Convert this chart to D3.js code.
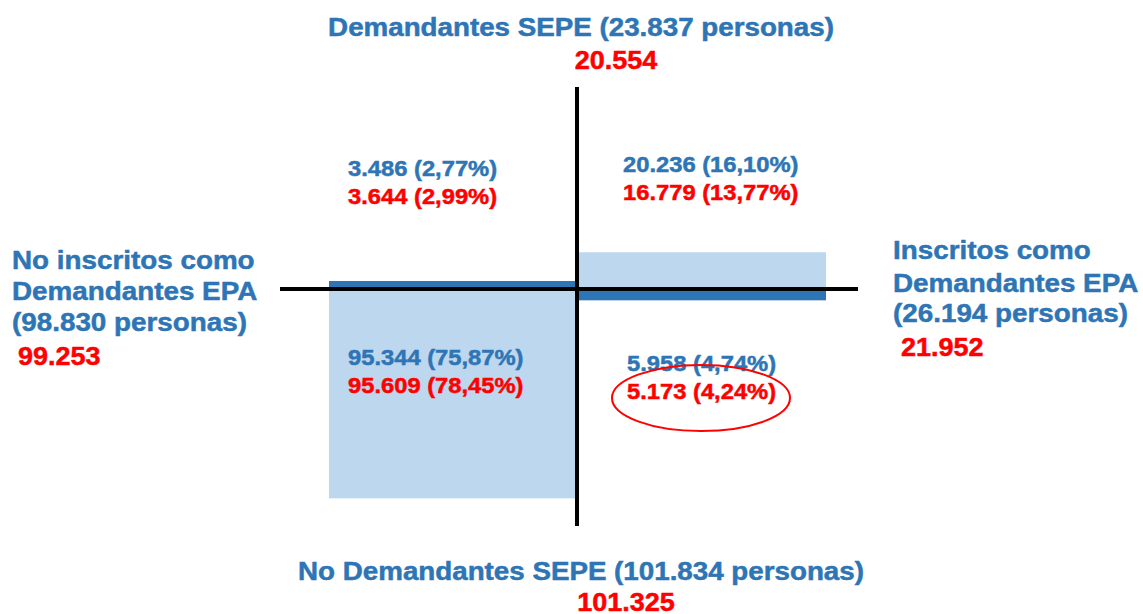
<!DOCTYPE html>
<head>
<meta charset="utf-8">
<script src="https://d3js.org/d3.v7.min.js"></script>
<style>
body { margin: 0; background: #fff; }
svg { display: block; }
text { font-family: "Liberation Sans", Arial, sans-serif; font-weight: bold; paint-order: stroke; stroke-width: 0.5px; }
</style>
</head>
<body>
<svg width="1143" height="614"></svg>
<script>
// quadrants: top-left, top-right, bottom-left, bottom-right
var quadrants = ["sepe_noEpa", "sepe_epa", "noSepe_noEpa", "noSepe_epa"];
var sepeRow = ["sepe", "sepe", "noSepe", "noSepe"];
var epaCol = ["noEpa", "epa", "noEpa", "epa"];
var blueCounts = [3486, 20236, 95344, 5958];
var bluePct = [2.77, 16.10, 75.87, 4.74];
var redCounts = [3644, 16779, 95609, 5173];
var redPct = [2.99, 13.77, 78.45, 4.24];

// row / column totals
var sepeLabels = ["Demandantes SEPE", "No Demandantes SEPE"];
var sepeBlue = [23837, 101834];
var sepeRed = [20554, 101325];
var epaLabels = [["No inscritos como", "Demandantes EPA"], ["Inscritos como", "Demandantes EPA"]];
var epaBlue = [98830, 26194];
var epaRed = [99253, 21952];

var blue = "#2e75b6", lightBlue = "#bdd7ee", red = "#ff0000";

var es = d3.formatLocale({decimal: ",", thousands: ".", grouping: [3], currency: ["", "€"]});
var fmtN = es.format(",d"), fmtP = es.format(".2f");

var svg = d3.select("svg");
var cx = 577, cy = 289;

var x = d3.scaleBand()
  .domain(["noEpa", "epa"])
  .range([329, 826]);

// thousands of persons, up = demandantes SEPE
var y = d3.scaleLinear()
  .domain([-100, 100])
  .range([cy + 219, cy - 219]);

var bars = quadrants.map(function(q, i) {
  return {q: q, row: sepeRow[i], col: epaCol[i], v: redCounts[i] / 1000, dark: (i == 0 || i == 3)};
});

svg.selectAll(".bar").data(bars).enter().append("rect")
  .attr("class", "bar")
  .attr("x", d => x(d.col))
  .attr("width", x.bandwidth())
  .attr("y", d => d.row == "sepe" ? y(d.v) : y(0))
  .attr("height", d => Math.abs(y(d.v) - y(0)))
  .style("fill", d => d.dark ? blue : lightBlue);

// axes cross
svg.append("line")
  .attr("x1", 280).attr("x2", 858)
  .attr("y1", y(0)).attr("y2", y(0))
  .style("stroke", "#000").style("stroke-width", 4);
svg.append("line")
  .attr("x1", cx).attr("x2", cx)
  .attr("y1", 87).attr("y2", 526)
  .style("stroke", "#000").style("stroke-width", 4);

function label(px, py, str, color, size, sx, anchor) {
  return svg.append("text")
    .attr("transform", "translate(" + px + "," + py + ") scale(" + sx + ",1)")
    .attr("text-anchor", anchor || "start")
    .style("font-size", size + "px")
    .style("fill", color)
    .style("stroke", color)
    .text(str);
}

// top / bottom headings
label(581, 36, sepeLabels[0] + " (" + fmtN(sepeBlue[0]) + " personas)", blue, 25, 1.11, "middle");
label(616, 69, fmtN(sepeRed[0]), red, 26.5, 1.02, "middle");
label(581, 580, sepeLabels[1] + " (" + fmtN(sepeBlue[1]) + " personas)", blue, 25, 1.11, "middle");
label(626, 611, fmtN(sepeRed[1]), red, 26.5, 1.02, "middle");

// side headings
label(12, 269, epaLabels[0][0], blue, 26.5, 1.05);
label(12, 300, epaLabels[0][1], blue, 26.5, 1.05);
label(12, 331, "(" + fmtN(epaBlue[0]) + " personas)", blue, 26.5, 1.05);
label(18, 365, fmtN(epaRed[0]), red, 26.5, 1.02);

label(893, 259, epaLabels[1][0], blue, 26.5, 1.05);
label(893, 292, epaLabels[1][1], blue, 26.5, 1.05);
label(893, 322, "(" + fmtN(epaBlue[1]) + " personas)", blue, 26.5, 1.05);
label(901, 356, fmtN(epaRed[1]), red, 26.5, 1.02);

// quadrant values
var qPos = [[348, 176], [623, 172], [348, 365], [627, 371]];
quadrants.forEach(function(q, i) {
  label(qPos[i][0], qPos[i][1], fmtN(blueCounts[i]) + " (" + fmtP(bluePct[i]) + "%)", blue, 22, 1.08);
  label(qPos[i][0], qPos[i][1] + 28, fmtN(redCounts[i]) + " (" + fmtP(redPct[i]) + "%)", red, 22, 1.08);
});

// highlight ellipse round the bottom-right red value
svg.append("ellipse")
  .attr("cx", qPos[3][0] + 74)
  .attr("cy", qPos[3][1] + 27)
  .attr("rx", 89).attr("ry", 33)
  .style("fill", "none")
  .style("stroke", red)
  .style("stroke-width", 2);
</script>
</body>
